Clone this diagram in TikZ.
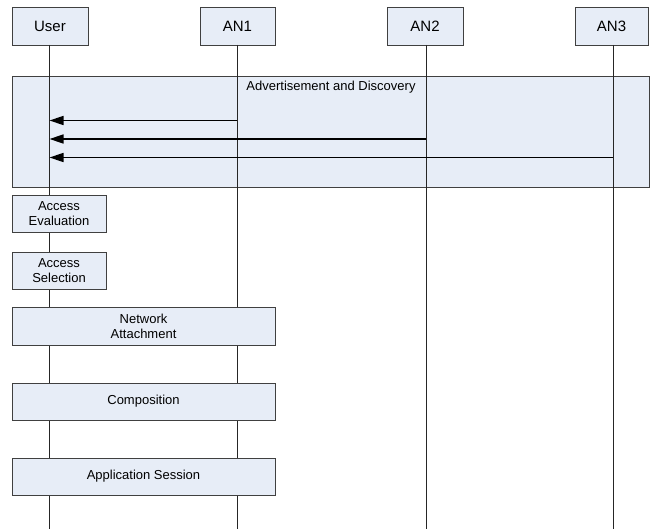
\documentclass[tikz,border=0pt]{standalone}
\usepackage{fontspec}
\setmainfont{Liberation Sans}
\usetikzlibrary{arrows.meta}
\definecolor{boxfill}{RGB}{231,237,247}
\definecolor{edge}{RGB}{64,64,64}
\begin{document}
\begin{tikzpicture}[x=1pt,y=-1pt,
  hdr/.style={draw=edge,fill=boxfill,line width=0.8pt,inner sep=0pt,font=\fontsize{15}{17}\selectfont},
  actbox/.style={draw=edge,fill=boxfill,line width=0.8pt,inner sep=0pt,align=center,font=\fontsize{13}{15}\selectfont},
  life/.style={draw=black!85,line width=0.8pt},
  msg/.style={draw=black,line width=1.5pt,-{Triangle[length=14pt,width=9pt]}}]
\useasboundingbox (0,0) rectangle (653,529);
% big frame
\node[actbox,minimum width=637pt,minimum height=111pt] (adv) at (330.5,131.5) {};
\node[font=\fontsize{13}{15}\selectfont,inner sep=0pt] (advt) at (331,87) {Advertisement and Discovery};
% headers
\node[hdr,minimum width=76pt,minimum height=38pt] (user) at (50,26) {User};
\node[hdr,minimum width=75pt,minimum height=38pt] (an1) at (237.5,26) {AN1};
\node[hdr,minimum width=76pt,minimum height=38pt] (an2) at (425,26) {AN2};
\node[hdr,minimum width=73pt,minimum height=38pt] (an3) at (611.5,26) {AN3};
% lifeline ends
\coordinate (ue) at (49.5,529);
\coordinate (a1e) at (237,529);
\coordinate (a2e) at (426,529);
\coordinate (a3e) at (613,529);
\draw[life] (49.5,45) coordinate (us) -- (ue);
\draw[life] (237,45) coordinate (a1s) -- (a1e);
\draw[life] (426,45) coordinate (a2s) -- (a2e);
\draw[life] (613,45) coordinate (a3s) -- (a3e);
% messages
\coordinate (m1a) at (237,120.5); \coordinate (m1u) at (49.5,120.5);
\coordinate (m2a) at (426,139); \coordinate (m2u) at (49.5,139);
\coordinate (m3a) at (613,157.5); \coordinate (m3u) at (49.5,157.5);
\draw[msg] (m1a) -- (m1u);
\draw[msg] (m2a) -- (m2u);
\draw[msg] (m3a) -- (m3u);
% activity boxes
\node[actbox,minimum width=94pt,minimum height=37pt] (eval) at (59,213.5) {Access\\Evaluation};
\node[actbox,minimum width=94pt,minimum height=37pt] (sel) at (59,270.5) {Access\\Selection};
\node[actbox,minimum width=263pt,minimum height=38pt] (att) at (143.5,326) {Network\\Attachment};
\node[actbox,minimum width=263pt,minimum height=37pt] (comp) at (143.5,401.5) {Composition};
\node[actbox,minimum width=263pt,minimum height=37pt] (app) at (143.5,476.5) {Application Session};
\end{tikzpicture}
\end{document}
